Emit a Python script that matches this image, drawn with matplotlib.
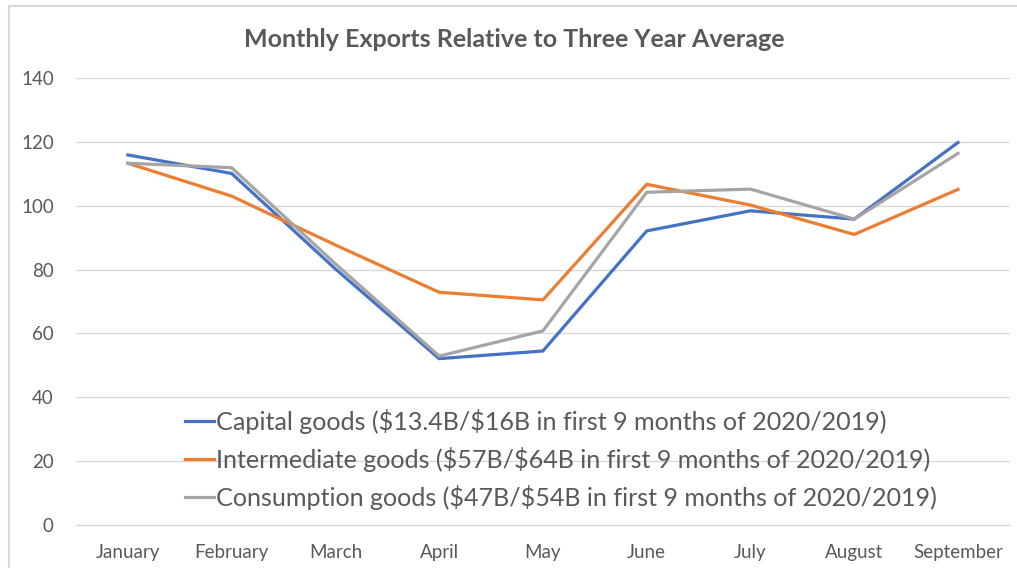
import matplotlib
matplotlib.use("Agg")
import matplotlib.pyplot as plt
from matplotlib.patches import Rectangle

plt.rcParams['font.family'] = ['Lato', 'DejaVu Sans']

# --- Data ---
months = ["January", "February", "March", "April", "May", "June", "July", "August", "September"]
capital = [115.9, 110.1, 80.2, 52.1, 54.5, 92.1, 98.4, 95.8, 119.8]
intermediate = [113.3, 103.0, 87.7, 72.9, 70.5, 106.7, 100.2, 91.0, 105.1]
consumption = [113.3, 111.9, 81.8, 52.9, 60.8, 104.2, 105.2, 95.8, 116.4]
labels = [
    r"Capital goods (\$13.4B/\$16B in first 9 months of 2020/2019)",
    r"Intermediate goods (\$57B/\$64B in first 9 months of 2020/2019)",
    r"Consumption goods (\$47B/\$54B in first 9 months of 2020/2019)",
]
colors = ["#4472C4", "#ED7D31", "#A5A5A5"]
yticks = [0, 20, 40, 60, 80, 100, 120, 140]

text_col = "#595959"

fig = plt.figure(figsize=(10.17, 5.68), dpi=100)
ax = fig.add_axes([0.0747, 0.0757, 0.9183, 0.787])

x = range(len(months))
for series, lab, c in zip([capital, intermediate, consumption], labels, colors):
    ax.plot(x, series, color=c, lw=2.3, label=lab, solid_joinstyle='miter', zorder=3)

ax.set_xlim(-0.5, len(months) - 0.5)
ax.set_ylim(0, 140)
ax.set_yticks(yticks)
ax.set_xticks(list(x))
ax.set_xticklabels(months)
ax.grid(axis='y', color="#D9D9D9", lw=1)
ax.axhline(0, color="#D9D9D9", lw=1, clip_on=False, zorder=1)
ax.set_axisbelow(True)
for s in ax.spines.values():
    s.set_visible(False)
ax.tick_params(length=0, labelsize=13.5, colors=text_col)
ax.tick_params(axis='y', pad=16)
ax.tick_params(axis='x', pad=14)

fig.text(0.506, 0.93, "Monthly Exports Relative to Three Year Average", ha='center', va='center',
         fontsize=18, fontweight='bold', color=text_col)

leg = ax.legend(loc='upper left', bbox_to_anchor=(0.106, 0.283), frameon=False, fontsize=18.1,
                handlelength=1.15, handletextpad=0.1, labelspacing=0.52, borderaxespad=0)
for t in leg.get_texts():
    t.set_color(text_col)

# chart border
fig.patches.append(Rectangle((0.009, -0.01), 1.0, 1.0, transform=fig.transFigure, fill=False,
                             edgecolor="#D9D9D9", lw=1.5))

fig.savefig("out.png", dpi=100)
